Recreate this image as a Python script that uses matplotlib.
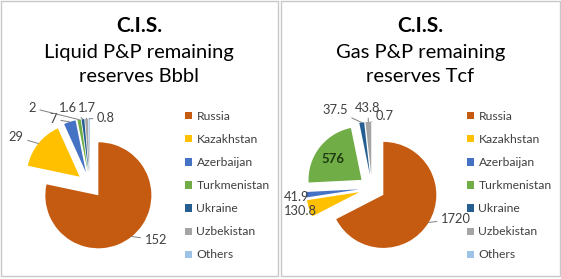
import numpy as np
import matplotlib.pyplot as plt
from matplotlib.patches import Rectangle

# data
countries = ['Russia', 'Kazakhstan', 'Azerbaijan', 'Turkmenistan', 'Ukraine', 'Uzbekistan', 'Others']
liquid_bbbl = [152, 29, 7, 2, 1.6, 1.7, 0.8]
liquid_labels = ['152', '29', '7', '2', '1.6', '1.7', '0.8']
gas_tcf = [1720, 130.8, 41.9, 576, 37.5, 43.8, 0.7]
gas_labels = ['1720', '130.8', '41.9', '576', '37.5', '43.8', '0.7']
colors = ['#C55A11', '#FFC000', '#4472C4', '#70AD47', '#255E91', '#A5A5A5', '#9DC3E6']

plt.rcParams['font.family'] = ['Lato', 'DejaVu Sans']

W, H = 561, 279
fig = plt.figure(figsize=(W / 100, H / 100), dpi=100)

R = 53          # pie radius in px
EXPLODE = 0.25
TXT = '#404040'

# label offsets from the pie centre in px (x right, y down), and whether a leader line is drawn
liquid_label_px = [(66, 55), (-74, -48), (-37, -66), (-58, -77), (-22, -77), (-3, -77), (16, -67)]
liquid_leaders = [True, True, True, True, True, True, True]
gas_label_px = [(84, 31), (-72, 23), (-75, 9), (-39, -29), (-37, -78), (-4, -80), (13, -72)]
gas_leaders = [True, False, False, False, True, True, True]


def panel(x0, x1, cx, cy, values, labels, label_px, leaders, title_lines, legend_x, inside=()):
    fig.add_artist(Rectangle((x0 / W, 1 - 275.5 / H), (x1 - x0) / W, 275 / H,
                             transform=fig.transFigure, fill=False, ec='#c8c8c8', lw=1))
    cxf = (x0 + x1) / 2 / W
    fig.text(cxf, 1 - 32 / H, title_lines[0], ha='center', va='baseline',
             fontsize=15, fontweight='bold', color='black')
    fig.text(cxf, 1 - 58 / H, title_lines[1], ha='center', va='baseline', fontsize=14.5, color='black')
    fig.text(cxf, 1 - 82 / H, title_lines[2], ha='center', va='baseline', fontsize=14.5, color='black')

    half = 80
    ax = fig.add_axes([(cx - half) / W, (H - cy - half) / H, 2 * half / W, 2 * half / H])
    wedges, _ = ax.pie(values, colors=colors, startangle=90, counterclock=False,
                       explode=[EXPLODE] * len(values), radius=1)
    lim = half / R
    ax.set_xlim(-lim, lim)
    ax.set_ylim(-lim, lim)
    ax.set_aspect('equal')
    ax.axis('off')

    for i, (w, lab, (dx, dy), lead) in enumerate(zip(wedges, labels, label_px, leaders)):
        mid = np.deg2rad((w.theta1 + w.theta2) / 2)
        tip = (w.center[0] + w.r * np.cos(mid), w.center[1] + w.r * np.sin(mid))
        pos = (dx / R, -dy / R)
        if i in inside:
            ax.text(*pos, lab, ha='center', va='center', fontsize=9.5,
                    fontweight='bold', color='#1e3a10')
        elif lead:
            ax.annotate(lab, xy=tip, xytext=pos, ha='center', va='center', fontsize=9.3,
                        color=TXT, annotation_clip=False,
                        arrowprops=dict(arrowstyle='-', color='#7f7f7f', lw=0.7,
                                        shrinkA=1, shrinkB=0))
        else:
            ax.text(*pos, lab, ha='center', va='center', fontsize=9.3, color=TXT)

    ax.legend(wedges, countries, loc='upper left', bbox_to_anchor=(legend_x / W, 1 - 111 / H),
              bbox_transform=fig.transFigure, frameon=False, fontsize=8.7,
              handlelength=0.55, handleheight=0.55, handletextpad=0.4, labelspacing=1.0,
              borderpad=0, borderaxespad=0, labelcolor=TXT)


panel(0.5, 278, 90, 185, liquid_bbbl, liquid_labels, liquid_label_px, liquid_leaders,
      ['C.I.S.', 'Liquid P&P remaining', 'reserves Bbbl'], 185)
panel(281, 560, 372, 188, gas_tcf, gas_labels, gas_label_px, gas_leaders,
      ['C.I.S.', 'Gas P&P remaining', 'reserves Tcf'], 467, inside=(3,))

fig.savefig('out.png', dpi=100, facecolor='white')
